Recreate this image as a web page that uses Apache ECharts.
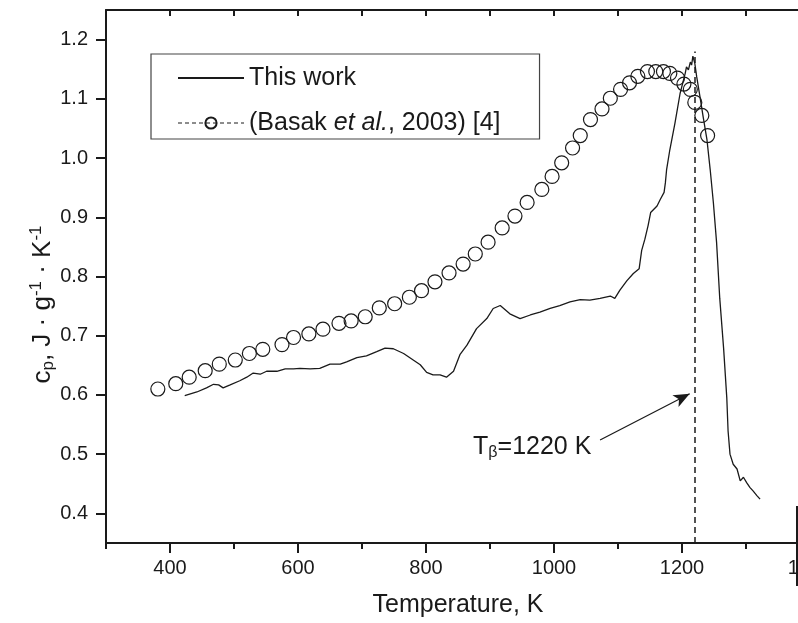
<!DOCTYPE html>
<html>
<head>
<meta charset="utf-8">
<script src="https://cdn.jsdelivr.net/npm/echarts@6/dist/echarts.min.js"></script>
<style>
  html, body { margin: 0; padding: 0; background: #fff; overflow: hidden; }
  #chart { width: 900px; height: 623px; }
</style>
</head>
<body>
<div id="chart"></div>
<script>
// measured curve (this work)
const thisWorkT = [423, 442, 457, 468, 476, 483, 494, 509, 520, 530, 541, 551, 567, 580, 593, 603, 619, 634, 650, 666, 676, 692, 707, 723, 736, 749, 765, 780, 791, 801, 811, 822, 832, 843, 853, 864, 879, 895, 905, 916, 931, 947, 963, 978, 994, 1009, 1025, 1041, 1056, 1072, 1088, 1095, 1103, 1114, 1124, 1133, 1137, 1142, 1147, 1151, 1161, 1166, 1172, 1174, 1176, 1181, 1189, 1197, 1205, 1207, 1210, 1213, 1215, 1217, 1220, 1223, 1228, 1233, 1239, 1244, 1249, 1254, 1259, 1265, 1270, 1272, 1275, 1280, 1286, 1291, 1296, 1301, 1306, 1311, 1317, 1322]
const thisWorkCp = [0.599, 0.605, 0.612, 0.618, 0.617, 0.612, 0.617, 0.624, 0.630, 0.637, 0.635, 0.640, 0.640, 0.644, 0.644, 0.645, 0.644, 0.645, 0.652, 0.652, 0.656, 0.663, 0.666, 0.673, 0.679, 0.678, 0.670, 0.659, 0.651, 0.638, 0.634, 0.634, 0.630, 0.640, 0.668, 0.684, 0.712, 0.729, 0.746, 0.751, 0.737, 0.729, 0.735, 0.740, 0.746, 0.751, 0.757, 0.761, 0.760, 0.763, 0.767, 0.763, 0.777, 0.793, 0.805, 0.813, 0.844, 0.863, 0.886, 0.908, 0.919, 0.930, 0.942, 0.958, 0.981, 1.014, 1.059, 1.109, 1.143, 1.154, 1.149, 1.162, 1.157, 1.172, 1.160, 1.137, 1.104, 1.070, 1.031, 0.981, 0.925, 0.858, 0.763, 0.679, 0.595, 0.539, 0.500, 0.483, 0.475, 0.455, 0.461, 0.452, 0.444, 0.438, 0.430, 0.424]

// Basak et al., 2003
const basakT = [381, 409, 430, 455, 477, 502, 524, 545, 575, 593, 617, 639, 664, 683, 705, 727, 751, 774, 793, 814, 836, 858, 877, 897, 919, 939, 958, 981, 997, 1012, 1029, 1041, 1057, 1075, 1088, 1104, 1118, 1131, 1146, 1159, 1171, 1181, 1193, 1203, 1213, 1220, 1231, 1240]
const basakCp = [0.610, 0.619, 0.630, 0.641, 0.652, 0.659, 0.670, 0.677, 0.685, 0.697, 0.703, 0.711, 0.721, 0.725, 0.732, 0.747, 0.754, 0.765, 0.776, 0.791, 0.806, 0.821, 0.838, 0.858, 0.882, 0.902, 0.925, 0.947, 0.969, 0.992, 1.017, 1.038, 1.065, 1.083, 1.101, 1.116, 1.127, 1.138, 1.146, 1.146, 1.146, 1.143, 1.135, 1.125, 1.116, 1.094, 1.072, 1.038]

const xMajorTicks = [400, 600, 800, 1000, 1200, 1400]
const xMinorTicks = [300, 500, 700, 900, 1100, 1300]
const xTopTicks = [400, 500, 600, 700, 800, 900, 1000, 1100, 1200, 1300]
const yMajorTicks = [0.4, 0.5, 0.6, 0.7, 0.8, 0.9, 1.0, 1.1, 1.2]
const yMinorTicks = [0.35, 0.45, 0.55, 0.65, 0.75, 0.85, 0.95, 1.05, 1.15]

const tBeta = 1220
const tBetaTop = 1.18

const FONT = '"Liberation Sans", Arial, sans-serif'
const INK = '#1a1a1a'

const chart = echarts.init(document.getElementById('chart'))

const zip = (xs, ys) => xs.map((x, i) => [x, ys[i]])

const tickAxis = (extra) => Object.assign({
  type: 'value',
  min: 300,
  max: 1400,
  axisLine: { show: false },
  axisLabel: { show: false },
  splitLine: { show: false },
}, extra)

const option = {
  animation: false,
  backgroundColor: '#fff',
  textStyle: { fontFamily: FONT, color: INK },
  // plot runs past the right edge of the page, like the cropped original
  grid: { left: 106, right: 90, top: 10, bottom: 78 },
  legend: {
    orient: 'vertical',
    left: 151,
    top: 54,
    padding: [10, 39, 2, 26],
    itemGap: 17,
    itemWidth: 66,
    itemHeight: 14,
    borderColor: '#444',
    borderWidth: 1.2,
    textStyle: {
      fontFamily: FONT, fontSize: 25, color: INK, lineHeight: 28,
      rich: { i: { fontFamily: FONT, fontSize: 25, fontStyle: 'italic', color: INK } },
    },
    formatter: (name) => name === 'This work' ? 'This work' : '(Basak {i|et al.}, 2003) [4]',
    data: [
      { name: 'This work', itemStyle: { opacity: 0 } },
      { name: 'Basak 2003', lineStyle: { opacity: 1, type: [4, 3], width: 1 } },
    ],
  },
  xAxis: [
    {
      type: 'value',
      position: 'bottom',
      min: 300,
      max: 1400,
      name: 'Temperature, K',
      nameLocation: 'middle',
      nameGap: 50,
      nameTextStyle: { fontFamily: FONT, fontSize: 25, color: INK },
      axisLine: { lineStyle: { color: INK, width: 2 } },
      axisTick: { customValues: xMajorTicks, length: 10, lineStyle: { color: INK, width: 2 } },
      axisLabel: {
        customValues: xMajorTicks, fontFamily: FONT, fontSize: 20, color: INK, margin: 15,
        formatter: (v) => String(v),
      },
      splitLine: { show: false },
    },
    tickAxis({
      position: 'bottom',
      axisTick: { customValues: xMinorTicks, length: 6, lineStyle: { color: INK, width: 2 } },
    }),
    tickAxis({
      position: 'top',
      axisLine: { lineStyle: { color: INK, width: 2 } },
      axisTick: { customValues: xTopTicks, inside: true, length: 6, lineStyle: { color: INK, width: 2 } },
    }),
  ],
  yAxis: [
    {
      type: 'value',
      min: 0.35,
      max: 1.25,
      name: 'c{sub|p}, J · g{sup|-1} · K{sup|-1}',
      nameLocation: 'middle',
      nameGap: 49,
      nameMoveOverlap: false,
      nameTextStyle: {
        fontFamily: FONT, fontSize: 26, color: INK, padding: [0, 56, 0, 0],
        rich: {
          sub: { fontFamily: FONT, fontSize: 17, color: INK, verticalAlign: 'bottom', padding: [10, 0, 0, 0] },
          sup: { fontFamily: FONT, fontSize: 17, color: INK, verticalAlign: 'top', padding: [0, 0, 12, 0] },
        },
      },
      axisLine: { lineStyle: { color: INK, width: 2 } },
      axisTick: { customValues: yMajorTicks, length: 10, lineStyle: { color: INK, width: 2 } },
      axisLabel: {
        customValues: yMajorTicks, fontFamily: FONT, fontSize: 20, color: INK, margin: 18,
        formatter: (v) => v.toFixed(1),
      },
      splitLine: { show: false },
    },
    {
      type: 'value',
      min: 0.35,
      max: 1.25,
      axisLine: { show: false },
      axisLabel: { show: false },
      axisTick: { customValues: yMinorTicks, length: 6, lineStyle: { color: INK, width: 2 } },
      splitLine: { show: false },
    },
  ],
  series: [
    {
      name: 'This work',
      type: 'line',
      symbol: 'none',
      data: zip(thisWorkT, thisWorkCp),
      lineStyle: { color: INK, width: 1.3 },
      itemStyle: { color: INK },
      z: 3,
      markLine: {
        silent: true,
        animation: false,
        label: { show: false },
        lineStyle: { color: INK, width: 1.3, type: 'solid' },
        data: [
          [
            { coord: [tBeta, 0.35], symbol: 'none', lineStyle: { type: [6, 4], width: 1.5, color: INK } },
            { coord: [tBeta, tBetaTop], symbol: 'none' },
          ],
          [
            { coord: [1072, 0.524], symbol: 'none' },
            { coord: [1212, 0.602], symbol: 'arrow', symbolSize: [10, 16] },
          ],
        ],
      },
      markPoint: {
        silent: true,
        symbol: 'circle',
        symbolSize: 0,
        data: [{ coord: [966, 0.512] }],
        label: {
          show: true,
          position: 'inside',
          formatter: '{t|T}{s|β}{t|=1220 K}',
          rich: {
            t: { fontFamily: FONT, fontSize: 25, color: INK },
            s: { fontFamily: FONT, fontSize: 16, color: INK, verticalAlign: 'bottom', padding: [12, 0, 0, 0] },
          },
        },
      },
    },
    {
      name: 'Basak 2003',
      type: 'line',
      symbol: 'circle',
      symbolSize: 14,
      showAllSymbol: true,
      data: zip(basakT, basakCp),
      lineStyle: { color: INK, width: 1, type: 'dashed', opacity: 0 },
      itemStyle: { color: 'rgba(255,255,255,0)', borderColor: INK, borderWidth: 1.2 },
      z: 4,
    },
  ],
  graphic: [
    {
      type: 'line',
      shape: { x1: 797, y1: 506, x2: 797, y2: 586 },
      style: { stroke: INK, lineWidth: 2 },
      silent: true,
    },
  ],
}

chart.setOption(option)
</script>
</body>
</html>
